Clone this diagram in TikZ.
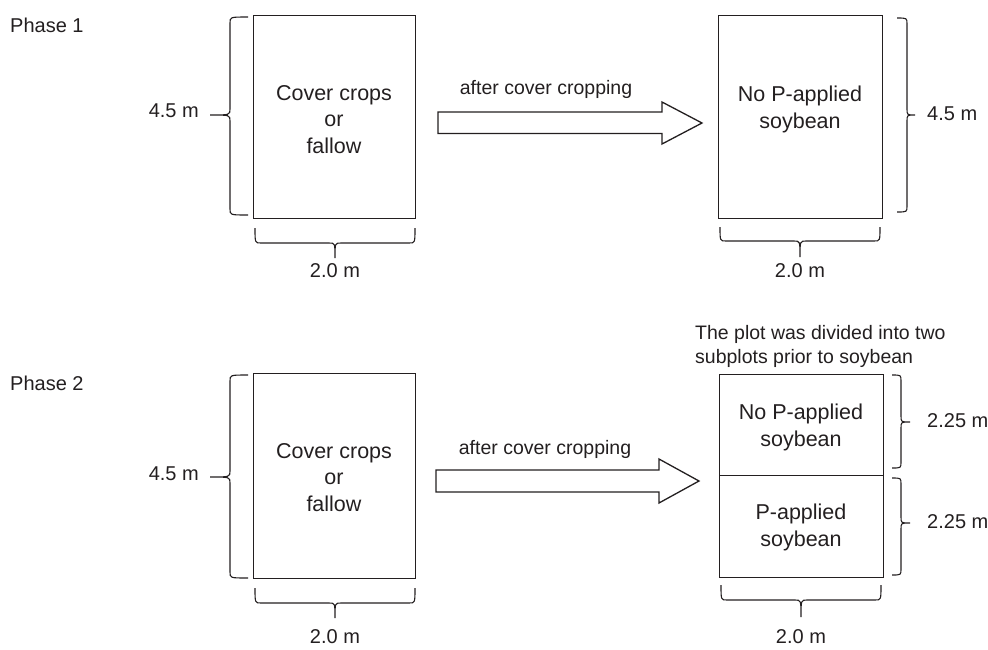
\documentclass[tikz,border=0pt]{standalone}
\usepackage{fontspec}
\setmainfont{Liberation Sans}
\definecolor{ink}{RGB}{35,31,32}
% vertical brace: #1 ends x, #2 back x, #3 tip x, #4 top y, #5 bottom y, #6 middle y
\newcommand{\vbrc}[6]{%
  \draw[brc] (#1,#4) .. controls (#2,#4) .. ({#2},{#4+6}) -- ({#2},{#6-6})
    .. controls (#2,#6) .. (#3,#6) .. controls (#2,#6) .. ({#2},{#6+6})
    -- ({#2},{#5-6}) .. controls (#2,#5) .. (#1,#5);}
% horizontal brace: #1 ends y, #2 back y, #3 tip y, #4 left x, #5 right x, #6 middle x
\newcommand{\hbrc}[6]{%
  \draw[brc] (#4,#1) .. controls (#4,#2) .. ({#4+6},{#2}) -- ({#6-6},{#2})
    .. controls (#6,#2) .. (#6,#3) .. controls (#6,#2) .. ({#6+6},{#2})
    -- ({#5-6},{#2}) .. controls (#5,#2) .. (#5,#1);}
\begin{document}
\begin{tikzpicture}[x=1pt,y=-1pt,
  plot/.style={draw=ink, line width=1.3pt, rectangle, inner sep=0pt, anchor=north west},
  brc/.style={draw=ink, line width=1.1pt},
  boxtxt/.style={font=\fontsize{21.5}{26.5}\selectfont, align=center, text=ink, inner sep=0pt, anchor=base},
  lbl/.style={font=\fontsize{20}{24}\selectfont, text=ink, inner sep=0pt, anchor=base},
  blockarrow/.style={draw=ink, line width=1.3pt, fill=white, line join=miter}]
\useasboundingbox (0,0) rectangle (988,649);

% ---------- Phase 1 ----------
\node[lbl, anchor=base west] (ph1) at (10,32) {Phase 1};
\node[plot, minimum width=162pt, minimum height=203pt] (cc1) at (253,15) {};
\node[boxtxt] (cc1t) at (334,153) {Cover crops\\or\\fallow};
\node[plot, minimum width=164pt, minimum height=203pt] (sb1) at (718,15) {};
\node[boxtxt] (sb1t) at (800,128) {No P-applied\\soybean};

\node[lbl, font=\fontsize{19.5}{24}\selectfont] (ac1) at (546,94) {after cover cropping};
\draw[blockarrow] (438,112) -- (662,112) -- (662,102) -- (702,123) -- (662,144) -- (662,133.5) -- (438,133.5) -- cycle;

\vbrc{248}{230}{210}{17}{215}{115}
\node[lbl, anchor=base east] (h1l) at (199,117) {4.5 m};
\hbrc{228}{243}{258}{255}{415}{335}
\node[lbl] (w1l) at (335,277) {2.0 m};

\vbrc{897}{907}{915}{18}{212}{115}
\node[lbl, anchor=base west] (h1r) at (927,120) {4.5 m};
\hbrc{227}{241}{257}{720}{880}{800}
\node[lbl] (w1r) at (800,277) {2.0 m};

% ---------- Phase 2 ----------
\node[lbl, anchor=base west] (ph2) at (10,390) {Phase 2};
\node[plot, minimum width=162pt, minimum height=205pt] (cc2) at (253,373) {};
\node[boxtxt] (cc2t) at (334,511) {Cover crops\\or\\fallow};

\node[lbl, font=\fontsize{19.5}{24}\selectfont, align=left, anchor=base west] (note) at (695,363) {The plot was divided into two\\subplots prior to soybean};

\node[plot, minimum width=164pt, minimum height=101pt] (sb2a) at (719,374) {};
\node[plot, minimum width=164pt, minimum height=102pt] (sb2b) at (719,475) {};
\node[boxtxt] (sb2at) at (801,446) {No P-applied\\soybean};
\node[boxtxt] (sb2bt) at (801,546) {P-applied\\soybean};

\node[lbl, font=\fontsize{19.5}{24}\selectfont] (ac2) at (545,454) {after cover cropping};
\draw[blockarrow] (436,470) -- (659,470) -- (659,459) -- (699,481) -- (659,503) -- (659,492) -- (436,492) -- cycle;

\vbrc{248}{230}{210}{375}{578}{477}
\node[lbl, anchor=base east] (h2l) at (199,480) {4.5 m};
\hbrc{588}{603}{618}{255}{415}{335}
\node[lbl] (w2l) at (335,643) {2.0 m};

\vbrc{892}{901}{910}{375}{468}{422}
\node[lbl, anchor=base west] (h2a) at (927,427) {2.25 m};
\vbrc{892}{901}{910}{478}{575}{523}
\node[lbl, anchor=base west] (h2b) at (927,528) {2.25 m};
\hbrc{585}{600}{617}{721}{881}{801}
\node[lbl] (w2r) at (801,643) {2.0 m};
\end{tikzpicture}
\end{document}
